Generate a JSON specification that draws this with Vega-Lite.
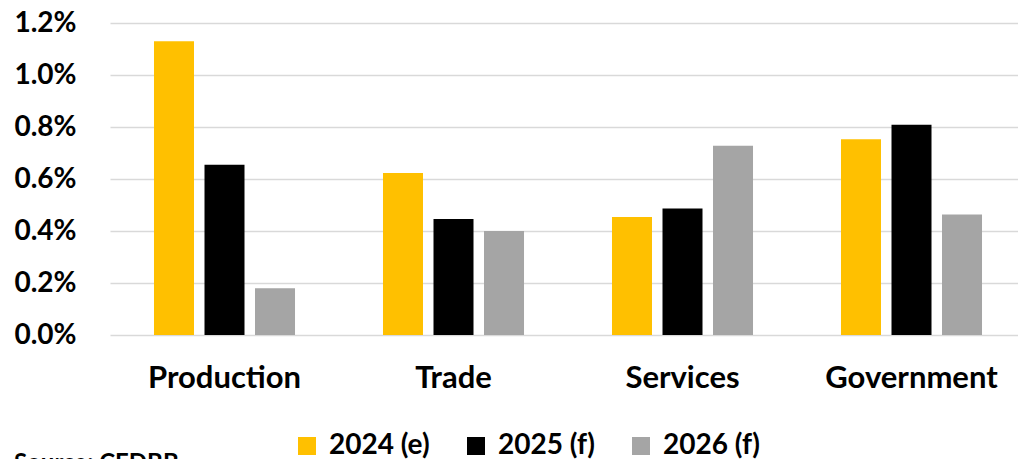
{
  "$schema": "https://vega.github.io/schema/vega-lite/v6.json",
  "autosize": {"type": "none"},
  "padding": {"left": 110, "top": 23, "right": 0, "bottom": 124},
  "width": 908,
  "height": 312,
  "background": "white",
  "title": {
    "text": "Source: CEDBB",
    "orient": "bottom",
    "anchor": "start",
    "frame": "bounds",
    "offset": -8,
    "font": "Lato",
    "fontSize": 24,
    "fontWeight": "bold",
    "color": "#000000"
  },
  "data": {
    "values": [
      {"sector": "Production", "year": "2024 (e)", "value": 0.0113},
      {"sector": "Production", "year": "2025 (f)", "value": 0.00655},
      {"sector": "Production", "year": "2026 (f)", "value": 0.0018},
      {"sector": "Trade", "year": "2024 (e)", "value": 0.00623},
      {"sector": "Trade", "year": "2025 (f)", "value": 0.00446},
      {"sector": "Trade", "year": "2026 (f)", "value": 0.0040},
      {"sector": "Services", "year": "2024 (e)", "value": 0.00454},
      {"sector": "Services", "year": "2025 (f)", "value": 0.00487},
      {"sector": "Services", "year": "2026 (f)", "value": 0.00728},
      {"sector": "Government", "year": "2024 (e)", "value": 0.00753},
      {"sector": "Government", "year": "2025 (f)", "value": 0.00809},
      {"sector": "Government", "year": "2026 (f)", "value": 0.00463}
    ]
  },
  "mark": {"type": "bar"},
  "encoding": {
    "x": {
      "field": "sector",
      "type": "nominal",
      "sort": ["Production", "Trade", "Services", "Government"],
      "scale": {"range": [0, 916], "paddingInner": 0, "paddingOuter": 0},
      "axis": {
        "title": null,
        "labelAngle": 0,
        "labelFont": "Lato",
        "labelFontSize": 31,
        "labelFontWeight": "bold",
        "labelColor": "#000000",
        "labelPadding": 28,
        "ticks": false,
        "tickSize": 0,
        "domain": false,
        "grid": false
      }
    },
    "xOffset": {
      "field": "year",
      "type": "nominal",
      "scale": {"paddingInner": 0.208, "paddingOuter": 0.871}
    },
    "y": {
      "field": "value",
      "type": "quantitative",
      "scale": {"domain": [0, 0.012], "nice": false},
      "axis": {
        "title": null,
        "format": ".1%",
        "values": [0, 0.002, 0.004, 0.006, 0.008, 0.01, 0.012],
        "labelFont": "Lato",
        "labelFontSize": 28,
        "labelFontWeight": "bold",
        "labelColor": "#000000",
        "labelPadding": 34,
        "ticks": false,
        "tickSize": 0,
        "domain": false,
        "grid": true,
        "gridColor": "#d9d9d9",
        "gridWidth": 1.5
      }
    },
    "color": {
      "field": "year",
      "type": "nominal",
      "scale": {
        "domain": ["2024 (e)", "2025 (f)", "2026 (f)"],
        "range": ["#FFC000", "#000000", "#A5A5A5"]
      },
      "legend": {
        "title": null,
        "orient": "none",
        "direction": "horizontal",
        "legendX": 183,
        "legendY": 409,
        "symbolType": "square",
        "symbolSize": 324,
        "symbolStrokeWidth": 0,
        "labelFont": "Lato",
        "labelFontSize": 28,
        "labelFontWeight": "bold",
        "labelColor": "#000000",
        "labelOffset": 8,
        "columnPadding": 32,
        "padding": 0
      }
    }
  },
  "config": {"view": {"stroke": null}}
}
